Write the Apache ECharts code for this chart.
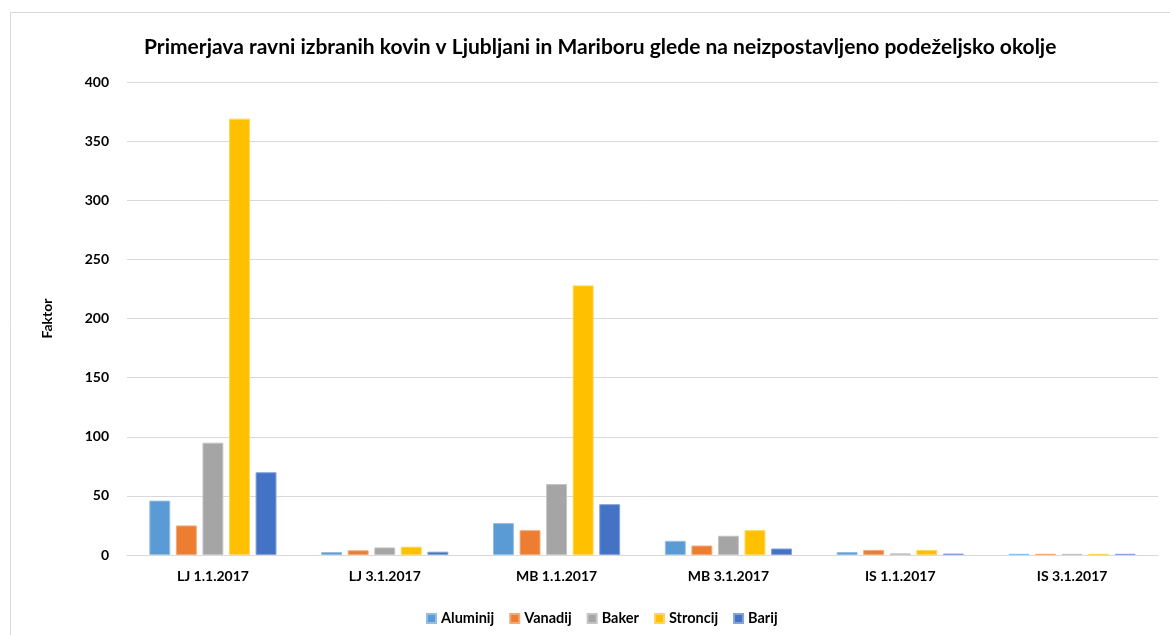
<!DOCTYPE html>
<html><head><meta charset="utf-8">
<script src="https://cdn.jsdelivr.net/npm/echarts@6/dist/echarts.min.js"></script>
<style>html,body{margin:0;padding:0;background:#fff}#c{width:1170px;height:635px}</style>
</head><body><div id="c"></div>
<script>
const categories = ['LJ 1.1.2017','LJ 3.1.2017','MB 1.1.2017','MB 3.1.2017','IS 1.1.2017','IS 3.1.2017'];
const aluminij = [46, 2.5, 27, 12, 2.5, 1];
const vanadij  = [25, 4, 21, 8, 4.3, 1];
const baker    = [95, 6.4, 60, 16.3, 1.4, 1];
const stroncij = [369, 7, 228, 21, 4.3, 1];
const barij    = [70, 2.8, 43, 5.5, 1.2, 1];
const yTicks = [0,50,100,150,200,250,300,350,400];

const colors = ['#5B9BD5','#ED7D31','#A5A5A5','#FFC000','#4472C4'];
const names = ['Aluminij','Vanadij','Baker','Stroncij','Barij'];
const data = [aluminij, vanadij, baker, stroncij, barij];
const font = 'Lato, "Open Sans", sans-serif';

const chart = echarts.init(document.getElementById('c'));
chart.setOption({
  animation:false,
  color: colors,
  graphic:[{type:'rect', shape:{x:10.5,y:12.5,width:1170,height:640}, style:{fill:'none',stroke:'#d9d9d9',lineWidth:1}, silent:true}],
  title:{text:'Primerjava ravni izbranih kovin v Ljubljani in Mariboru glede na neizpostavljeno podeželjsko okolje',
    left:139, top:32, textStyle:{fontFamily:font,fontWeight:'bold',fontSize:21,color:'#000'}},
  legend:{bottom:4,left:421,itemWidth:9,itemHeight:9,itemGap:15,icon:'rect',
    textStyle:{fontFamily:font,fontWeight:'bold',fontSize:14.5,color:'#000'}},
  grid:{left:127,right:12,top:82,bottom:80},
  xAxis:{type:'category',data:categories,
    axisLine:{lineStyle:{color:'#d9d9d9'}},axisTick:{show:false},
    axisLabel:{margin:14,fontFamily:font,fontWeight:'bold',fontSize:14,color:'#000'}},
  yAxis:{type:'value',min:0,max:400,interval:50,name:'Faktor',nameLocation:'middle',nameGap:73,nameRotate:90,
    nameTextStyle:{fontFamily:font,fontWeight:'bold',fontSize:14,color:'#000'},
    axisLabel:{margin:18,fontFamily:font,fontWeight:'bold',fontSize:14,color:'#000',
      formatter:v=>yTicks.includes(v)?String(v):''},
    splitLine:{lineStyle:{color:'#d9d9d9'}},axisLine:{show:false},axisTick:{show:false}},
  series: names.map((n,i)=>({name:n,type:'bar',data:data[i],barGap:'27%',barCategoryGap:'26%',
    itemStyle:{color:colors[i],borderColor:echarts.color.lift(colors[i],0.35),borderWidth:1}}))
});
</script></body></html>
